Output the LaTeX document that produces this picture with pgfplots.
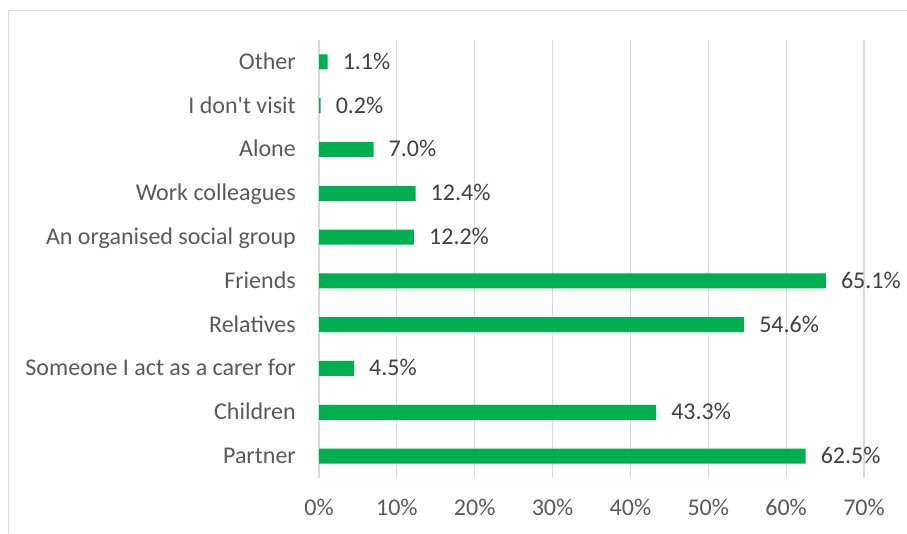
\documentclass[border=0pt]{standalone}
\usepackage{fontspec}
\setmainfont{Carlito}
\usepackage{pgfplots}
\pgfplotsset{compat=1.18}
\definecolor{bargreen}{HTML}{00B050}
\definecolor{gridgray}{HTML}{D9D9D9}
\definecolor{labgray}{HTML}{595959}
\definecolor{datgray}{HTML}{404040}
\begin{document}
\fontsize{24}{28}\selectfont
\begin{tikzpicture}[x=1pt,y=1pt]
\useasboundingbox (0,0) rectangle (907,533);
\draw[gridgray, line width=1pt] (8,0) -- (8,522) -- (907,522);
\begin{axis}[
  at={(319pt,55pt)}, anchor=south west,
  scale only axis, width=545pt, height=438pt,
  xbar, bar width=15pt,
  xmin=0, xmax=70, ymin=-0.5, ymax=9.5,
  xtick={0,10,...,70},
  ytick={0,...,9},
  yticklabels={Partner,Children,Someone I act as a carer for,Relatives,Friends,An organised social group,Work colleagues,Alone,I don\textquotesingle t visit,Other},
  /pgf/number format/assume math mode=true,
  xticklabel={\pgfmathprintnumber{\tick}\%},
  xmajorgrids, major grid style={gridgray, line width=1.2pt},
  axis line style={draw=none},
  major tick length=0pt,
  tick style={draw=none},
  xticklabel style={font=\fontsize{24}{28}\selectfont, text=labgray, anchor=base, inner sep=0pt, yshift=-37.5pt},
  yticklabel style={font=\fontsize{24}{28}\selectfont, text=labgray, anchor=base east, inner sep=0pt, xshift=-23pt, yshift=-7.5pt},
  nodes near coords={\pgfmathprintnumber[fixed,fixed zerofill,precision=1]{\pgfplotspointmeta}\%},
  nodes near coords style={font=\fontsize{24}{28}\selectfont, text=datgray, anchor=base west, inner sep=0pt, xshift=15pt, yshift=-7.5pt},
  clip=false,
]
\addplot[fill=bargreen, draw=none] coordinates {
  (62.5,0) (43.3,1) (4.5,2) (54.6,3) (65.1,4) (12.2,5) (12.4,6) (7.0,7) (0.2,8) (1.1,9)
};
\end{axis}
\end{tikzpicture}
\end{document}
